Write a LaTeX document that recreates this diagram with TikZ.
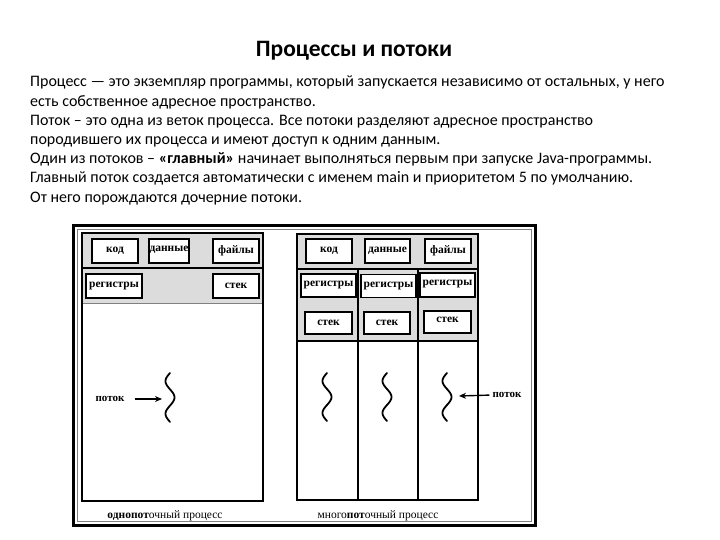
\documentclass[tikz,border=0pt]{standalone}
\usepackage{fontspec}
\setmainfont{Carlito}
\newfontfamily\diagfont{Liberation Serif}
\usetikzlibrary{arrows.meta}
\definecolor{bandgray}{HTML}{DCDCDC}
\tikzset{
  every picture/.style={x=1pt,y=-1pt},
  txtline/.style={anchor=base west, inner sep=0pt, font=\fontsize{16}{19}\selectfont},
  cell/.style={draw=black, line width=1.2pt, fill=white, inner sep=0pt, font=\diagfont\bfseries\fontsize{11.5}{13}\selectfont},
  frame/.style={draw=black, line width=1.2pt},
  sep/.style={draw=black, line width=1.6pt},
  squig/.style={line width=1.8pt, line cap=round},
  arr/.style={line width=1.4pt, -{Stealth[length=7pt,width=6pt]}},
  lbl/.style={inner sep=0pt, font=\diagfont\bfseries\fontsize{11}{13}\selectfont},
  captext/.style={inner sep=0pt, font=\diagfont\fontsize{11.5}{13}\selectfont},
}
\begin{document}
\begin{tikzpicture}
\useasboundingbox (0,0) rectangle (720,540);
% title
\node[anchor=base, inner sep=0pt, font=\fontsize{23.5}{28}\selectfont\bfseries] (title) at (354,56.5) {Процессы и потоки};
% body
\node[txtline] (l1) at (30,87) {Процесс — это экземпляр программы, который запускается независимо от остальных, у него};
\node[txtline] (l2) at (30,106.2) {есть собственное адресное пространство.};
\node[txtline] (l3) at (30,125.4) {Поток – это одна из веток процесса. Все потоки разделяют адресное пространство};
\node[txtline] (l4) at (30,144.6) {породившего их процесса и имеют доступ к одним данным.};
\node[txtline] (l5) at (30,163.8) {Один из потоков – \textbf{«главный»} начинает выполняться первым при запуске Java-программы.};
\node[txtline] (l6) at (30,183) {Главный поток создается автоматически с именем main и приоритетом 5 по умолчанию.};
\node[txtline] (l7) at (30,202.2) {От него порождаются дочерние потоки.};
% outer frame
\draw[line width=3.5pt] (73.5,225.5) rectangle (535.5,525.5);
\draw[gray, line width=0.7pt] (77.5,229.5) rectangle (531.5,521.5);
% left process
\fill[bandgray] (82,233) rectangle (263,303);
\draw[draw=gray, line width=1pt] (82,303) -- (263,303);
\draw[sep] (82,268) -- (263,268);
\draw[frame] (82,233) rectangle (263,501);
\node[cell, minimum width=46pt, minimum height=24pt] (kodL) at (115,251) {код};
\node[cell, minimum width=40pt, minimum height=24pt, text depth=4pt] (datL) at (169,251) {данные};
\node[cell, minimum width=46pt, minimum height=24pt] (filL) at (236,251) {файлы};
\node[cell, minimum width=56pt, minimum height=24pt] (regL) at (114,286) {регистры};
\node[cell, minimum width=46pt, minimum height=24pt] (stkL) at (236,286) {стек};
% left thread
\draw[squig] plot[domain=0:3, samples=60] ({170-4.5*sin(\x*180)}, {373+\x*16.3});
\coordinate (sqL) at (162,399);
\node[lbl] (potL) at (110,399) {поток};
\draw[arr, shorten <=10pt] (potL.east) -- (sqL);
\node[captext] (capL) at (165,516) {\textbf{однопот}очный процесс};
% right process
\fill[bandgray] (297,234) rectangle (478,341);
\draw[sep] (297,269) -- (478,269);
\draw[sep] (297,341) -- (478,341);
\draw[frame] (358,269) -- (358,500);
\draw[frame] (418,269) -- (418,500);
\draw[frame] (297,234) rectangle (478,500);
\node[cell, minimum width=46pt, minimum height=24pt] (kodR) at (329,251) {код};
\node[cell, minimum width=45pt, minimum height=24pt] (datR) at (387.5,251) {данные};
\node[cell, minimum width=46pt, minimum height=24pt] (filR) at (448,251) {файлы};
\node[cell, minimum width=55pt, minimum height=23pt] (reg1) at (328.5,285.5) {регистры};
\node[cell, minimum width=55pt, minimum height=23pt] (reg2) at (388.5,286) {регистры};
\node[cell, minimum width=55pt, minimum height=24pt, text depth=5pt] (reg3) at (447.5,285) {регистры};
\node[cell, minimum width=47pt, minimum height=22pt] (stk1) at (328.5,323) {стек};
\node[cell, minimum width=46pt, minimum height=22pt] (stk2) at (387,323) {стек};
\node[cell, minimum width=47pt, minimum height=22pt, text depth=4pt] (stk3) at (447.5,322) {стек};
% right threads
\draw[squig] plot[domain=0:3, samples=60] ({327-4.5*sin(\x*180)}, {373+\x*16});
\draw[squig] plot[domain=0:3, samples=60] ({387-4.5*sin(\x*180)}, {373+\x*16});
\draw[squig] plot[domain=0:3, samples=60] ({447-4.5*sin(\x*180)}, {373+\x*16});
\coordinate (sqR) at (459,396);
\node[lbl] (potR) at (507,395) {поток};
\draw[arr, shorten <=3pt] (potR.west) -- (sqR);
\node[captext] (capR) at (378,516) {много\textbf{пот}очный процесс};
\end{tikzpicture}
\end{document}
